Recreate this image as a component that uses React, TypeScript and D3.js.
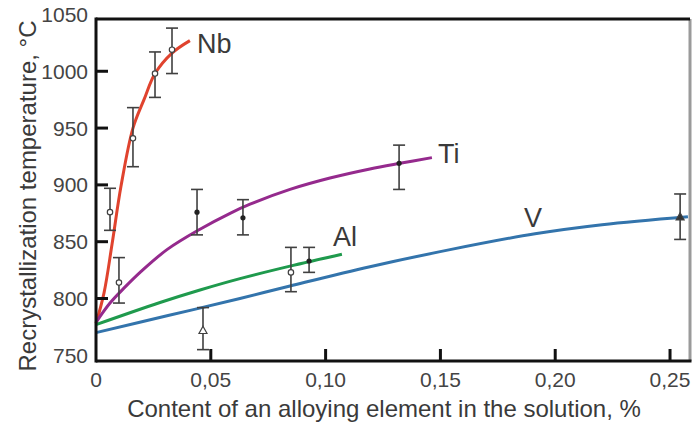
import React from "react";
import * as d3 from "d3";

// curves (content %, temperature °C)
const nbX = [0, 0.0035, 0.007, 0.0109, 0.0161, 0.0209, 0.0257, 0.0331, 0.0409];
const nbY = [778, 805, 848, 899, 950, 975, 998, 1016, 1027];
const tiX = [0, 0.0061, 0.0126, 0.0192, 0.0309, 0.0453, 0.0584, 0.0671, 0.0845, 0.1019, 0.1193, 0.1324, 0.1463];
const tiY = [779, 796, 810, 823, 843, 861, 875, 883, 896, 906, 914, 919, 924];
const alX = [0, 0.0279, 0.0453, 0.0627, 0.0845, 0.1071];
const alY = [777, 796.5, 807.5, 817.5, 828.5, 839];
const vX = [0, 0.0314, 0.0627, 0.0845, 0.1193, 0.1542, 0.1912, 0.2204, 0.2578];
const vY = [770, 785, 800, 811, 828, 843, 857, 865, 872];

// measured points with error bars: x, mean, low, high
const nbPts = [
  [0.0061, 876, 860, 897],
  [0.01, 814, 796, 836],
  [0.0161, 941, 916, 968],
  [0.0257, 998, 977, 1017],
  [0.0331, 1019, 998, 1038],
];
const tiPts = [
  [0.044, 876, 856, 896],
  [0.064, 871, 856, 887],
  [0.132, 919, 896, 935],
];
const alPts = [
  [0.0849, 823, 806, 845, "open"],
  [0.0928, 833, 823, 845, "dot"],
];
const vPts = [
  [0.0466, 772, 755, 792, "open"],
  [0.2544, 872, 852, 892, "fill"],
];

const labels = ["Nb", "Ti", "Al", "V"];
const labelX = [0.044, 0.149, 0.1032, 0.1864];
const labelY = [1016, 919, 846, 863];

const xTicks = [0, 0.05, 0.1, 0.15, 0.2, 0.25];
const xTickLabels = ["0", "0,05", "0,10", "0,15", "0,20", "0,25"];
const yTicks = [750, 800, 850, 900, 950, 1000, 1050];

const W = 698;
const H = 425;
const left = 96, right = 690, top = 19, bottom = 361;
const font = "'Liberation Sans', Arial, sans-serif";
const ink = "#3a3a3a";

export default function App() {
  const x = d3.scaleLinear().domain([0, 0.2587]).range([left, right]);
  const y = d3.scaleLinear().domain([745, 1046]).range([bottom, top]);

  const line = d3.line<number>().curve(d3.curveCatmullRom.alpha(0.5));

  const path = (xs: number[], ys: number[]) =>
    line.x((_, i) => x(xs[i])).y((_, i) => y(ys[i]))(xs);

  const series = [
    { xs: nbX, ys: nbY, color: "#e0432e" },
    { xs: tiX, ys: tiY, color: "#952a8d" },
    { xs: alX, ys: alY, color: "#1f9a4d" },
    { xs: vX, ys: vY, color: "#3374ac" },
  ];

  const bar = (p: any[], key: string) => {
    const cx = x(p[0]);
    return (
      <g key={key} stroke="#404040" strokeWidth={1.6}>
        <line x1={cx} x2={cx} y1={y(p[2])} y2={y(p[3])} />
        <line x1={cx - 6} x2={cx + 6} y1={y(p[2])} y2={y(p[2])} />
        <line x1={cx - 6} x2={cx + 6} y1={y(p[3])} y2={y(p[3])} />
      </g>
    );
  };

  const tri = (cx: number, cy: number, r: number) =>
    `M${cx},${cy - r}L${cx + r},${cy + r * 0.8}L${cx - r},${cy + r * 0.8}Z`;

  return (
    <svg
      width={W}
      height={H}
      style={{ position: "absolute", left: 0, top: 0, background: "#fff" }}
      fontFamily={font}
    >
      {series.map((s, i) => (
        <path key={i} d={path(s.xs, s.ys) || ""} fill="none" stroke={s.color} strokeWidth={3} />
      ))}

      {nbPts.map((p, i) => (
        <g key={"nb" + i}>
          {bar(p, "b")}
          <circle cx={x(p[0])} cy={y(p[1])} r={2.7} fill="#fff" stroke="#404040" strokeWidth={1.2} />
        </g>
      ))}
      {tiPts.map((p, i) => (
        <g key={"ti" + i}>
          {bar(p, "b")}
          <circle cx={x(p[0])} cy={y(p[1])} r={2.6} fill="#222" />
        </g>
      ))}
      {alPts.map((p, i) => (
        <g key={"al" + i}>
          {bar(p, "b")}
          {p[4] === "open" ? (
            <circle cx={x(p[0] as number)} cy={y(p[1] as number)} r={2.7} fill="#fff" stroke="#404040" strokeWidth={1.2} />
          ) : (
            <circle cx={x(p[0] as number)} cy={y(p[1] as number)} r={2.6} fill="#222" />
          )}
        </g>
      ))}
      {vPts.map((p, i) => (
        <g key={"v" + i}>
          {bar(p, "b")}
          <path
            d={tri(x(p[0] as number), y(p[1] as number), 4)}
            fill={p[4] === "open" ? "#fff" : "#333"}
            stroke="#404040"
            strokeWidth={1.2}
          />
        </g>
      ))}

      {labels.map((t, i) => (
        <text key={t} x={x(labelX[i])} y={y(labelY[i])} fontSize={27} fill={ink}>
          {t}
        </text>
      ))}

      {/* frame */}
      <line x1={right} x2={right} y1={top} y2={bottom} stroke="#9a9a9a" strokeWidth={3} />
      <line x1={left} x2={right} y1={top} y2={top} stroke="#111" strokeWidth={3} />
      <line x1={left} x2={left} y1={top - 1.5} y2={bottom + 1.5} stroke="#111" strokeWidth={3} />
      <line x1={left} x2={right + 1.5} y1={bottom} y2={bottom} stroke="#111" strokeWidth={3} />

      {yTicks.map((t) => (
        <g key={t}>
          {y(t) > top + 8 && y(t) < bottom - 8 && (
            <line x1={left} x2={left + 12} y1={y(t)} y2={y(t)} stroke="#111" strokeWidth={3} />
          )}
          <text x={88} y={y(t)} dy="0.36em" textAnchor="end" fontSize={21} fill="#444">
            {t}
          </text>
        </g>
      ))}
      {xTicks.map((t, i) => (
        <g key={t}>
          {i > 0 && (
            <line x1={x(t)} x2={x(t)} y1={bottom} y2={bottom - 12} stroke="#111" strokeWidth={3} />
          )}
          <text x={x(t)} y={387} textAnchor="middle" fontSize={21} fill="#444">
            {xTickLabels[i]}
          </text>
        </g>
      ))}

      <text x={384} y={417} textAnchor="middle" fontSize={24} fill={ink}>
        Content of an alloying element in the solution, %
      </text>
      <text
        transform="translate(36,196) rotate(-90)"
        textAnchor="middle"
        fontSize={24}
        fill={ink}
      >
        Recrystallization temperature, °C
      </text>
    </svg>
  );
}
